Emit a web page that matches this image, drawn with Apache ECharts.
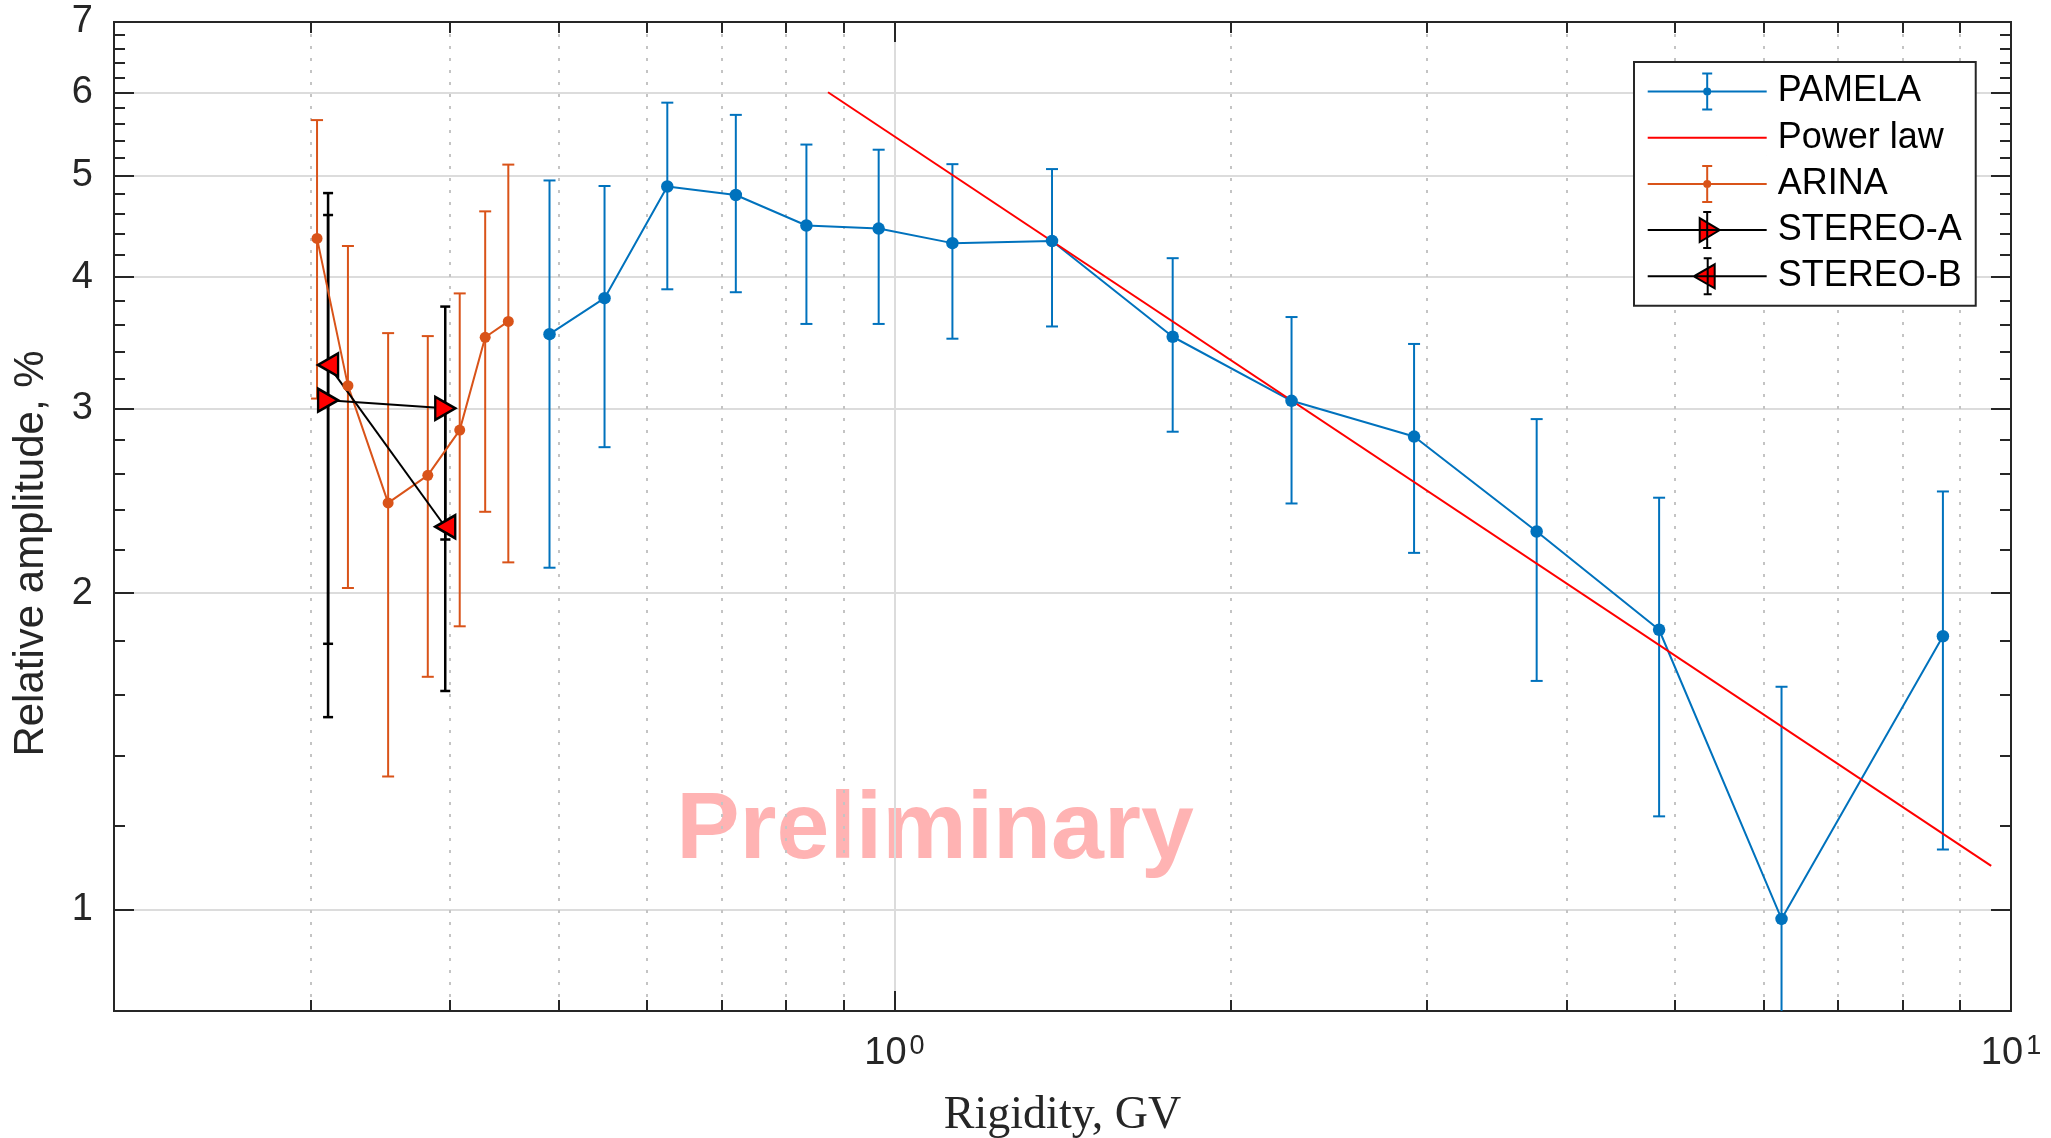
<!DOCTYPE html>
<html>
<head>
<meta charset="utf-8">
<title>Relative amplitude vs rigidity</title>
<script src="https://cdn.jsdelivr.net/npm/echarts@6/dist/echarts.min.js"></script>
<style>
  html, body { margin: 0; padding: 0; background: #fff; }
  #chart { width: 2051px; height: 1138px; }
</style>
</head>
<body>
<div id="chart"></div>
<script>
// PAMELA
const pamelaX = [0.491, 0.550, 0.626, 0.721, 0.834, 0.968, 1.127, 1.384, 1.775, 2.268, 2.92, 3.76, 4.84, 6.23, 8.69]
const pamelaY = [3.53, 3.82, 4.88, 4.79, 4.48, 4.45, 4.31, 4.33, 3.51, 3.05, 2.82, 2.29, 1.846, 0.979, 1.82]
const pamelaErr = [1.415, 1.065, 0.985, 0.92, 0.87, 0.84, 0.815, 0.74, 0.66, 0.615, 0.635, 0.64, 0.62, 0.65, 0.68]

// power law fit (two end points of the straight line)
const powerX = [0.872, 9.6]
const powerY = [6.0, 1.10]

// ARINA
const arinaX = [0.304, 0.324, 0.352, 0.382, 0.408, 0.430, 0.451]
const arinaY = [4.355, 3.153, 2.438, 2.590, 2.86, 3.506, 3.63]
const arinaErr = [1.29, 1.13, 1.10, 0.925, 1.0, 1.115, 1.49]

// STEREO
const stereoAX = [0.311, 0.396]
const stereoAY = [3.054, 3.0]
const stereoAErr = [1.53, 0.75]
const stereoBX = [0.311, 0.396]
const stereoBY = [3.30, 2.314]
const stereoBErr = [1.51, 0.70]

// ticks
const xMajor = [1, 10]
const xMinor = [0.3, 0.4, 0.5, 0.6, 0.7, 0.8, 0.9, 2, 3, 4, 5, 6, 7, 8, 9]
const yMajor = [1, 2, 3, 4, 5, 6, 7]
const yMinor = [1.2, 1.4, 1.6, 1.8, 2.2, 2.4, 2.6, 2.8, 3.2, 3.4, 3.6, 3.8, 4.2, 4.4, 4.6, 4.8, 5.2, 5.4, 5.6, 5.8, 6.2, 6.4, 6.6, 6.8]

const axisColor = '#262626'
const blue = '#0072BD'
const orange = '#D95319'

// legend icons: line + error bar + marker, drawn in a 119x36 box
const dotIcon = 'path://M0,18L119,18M59.5,0L59.5,36M54.5,0L64.5,0M54.5,36L64.5,36M62.5,18A3,3,0,1,1,56.5,18A3,3,0,1,1,62.5,18Z'
const lineIcon = 'path://M0,0L0.01,0M0,18L119,18M119,36L118.99,36'
const rightIcon = 'path://M0,18L119,18M59.5,0L59.5,36M55.5,0L63.5,0M55.5,36L63.5,36M52,6L72,18L52,30Z'
const leftIcon = 'path://M0,18L119,18M60,0L60,36M56,0L64,0M56,36L64,36M46,18L67,6L67,30Z'

function points (xs, ys) {
  return xs.map((x, i) => [x, ys[i]])
}

function errRows (xs, ys, errs) {
  return xs.map((x, i) => [x, ys[i] - errs[i], ys[i] + errs[i]])
}

function barRenderer (color, cap, width) {
  return function (params, api) {
    const hi = api.coord([api.value(0), api.value(2)])
    const lo = api.coord([api.value(0), api.value(1)])
    const style = { stroke: color, lineWidth: width }
    return {
      type: 'group',
      children: [
        { type: 'line', shape: { x1: hi[0], y1: hi[1], x2: lo[0], y2: lo[1] }, style },
        { type: 'line', shape: { x1: hi[0] - cap, y1: hi[1], x2: hi[0] + cap, y2: hi[1] }, style },
        { type: 'line', shape: { x1: lo[0] - cap, y1: lo[1], x2: lo[0] + cap, y2: lo[1] }, style }
      ]
    }
  }
}

function errSeries (name, rows, color, cap, width) {
  return {
    name,
    type: 'custom',
    clip: true,
    renderItem: barRenderer(color, cap, width),
    encode: { x: 0, y: [1, 2] },
    data: rows,
    silent: true
  }
}

function tickAxis (pos, values, len) {
  const isX = pos === 'top' || pos === 'bottom'
  return {
    type: 'log',
    logBase: 10,
    min: isX ? 0.2 : 0.8,
    max: isX ? 10 : 7,
    position: pos,
    axisLine: { show: true, lineStyle: { color: axisColor, width: 2 } },
    axisTick: { show: true, inside: true, length: len, customValues: values, lineStyle: { color: axisColor, width: 2 } },
    axisLabel: { show: false },
    splitLine: { show: false }
  }
}

const chart = echarts.init(document.getElementById('chart'))

const xMain = tickAxis('bottom', xMajor, 20)
xMain.axisLabel = {
  show: true,
  customValues: xMajor,
  margin: 22,
  formatter: v => '{b|10}{s|' + Math.round(Math.log10(v)) + '}',
  rich: {
    b: { fontSize: 38, lineHeight: 40, verticalAlign: 'bottom', fontFamily: 'Liberation Sans', color: axisColor },
    s: { fontSize: 27, lineHeight: 28, verticalAlign: 'top', padding: [0, 0, 20, 3], fontFamily: 'Liberation Sans', color: axisColor }
  }
}
xMain.splitLine = { show: true, lineStyle: { color: '#dcdcdc', width: 2 } }
xMain.name = 'Rigidity, GV'
xMain.nameLocation = 'middle'
xMain.nameGap = 82
xMain.nameTextStyle = { fontFamily: 'Liberation Serif', fontSize: 46, color: axisColor }

const xMinorAxis = tickAxis('bottom', xMinor, 11)
xMinorAxis.splitLine = { show: true, lineStyle: { color: '#c4c4c4', width: 2, type: [3, 9] } }

const yMain = tickAxis('left', yMajor, 20)
yMain.axisLabel = {
  show: true,
  customValues: yMajor,
  margin: 21,
  formatter: v => String(Math.round(v)),
  fontSize: 38,
  fontFamily: 'Liberation Sans',
  color: axisColor
}
yMain.splitLine = { show: true, lineStyle: { color: '#dcdcdc', width: 2 } }
yMain.name = 'Relative amplitude, %'
yMain.nameLocation = 'middle'
yMain.nameRotate = 90
yMain.nameGap = 62
yMain.nameTextStyle = { fontFamily: 'Liberation Sans', fontSize: 42, color: axisColor, padding: [0, 74, 0, 0] }

const option = {
  backgroundColor: '#fff',
  animation: false,
  grid: { left: 114, right: 40, top: 22, bottom: 127, containLabel: false, outerBoundsMode: 'none' },
  xAxis: [
    xMain,
    xMinorAxis,
    tickAxis('top', xMajor, 20),
    tickAxis('top', xMinor, 11)
  ],
  yAxis: [
    yMain,
    tickAxis('left', yMinor, 11),
    tickAxis('right', yMajor, 20),
    tickAxis('right', yMinor, 11)
  ],
  legend: {
    orient: 'vertical',
    left: 1634,
    top: 62,
    backgroundColor: '#fff',
    borderColor: axisColor,
    borderWidth: 2,
    borderRadius: 0,
    padding: [10.5, 14, 10.5, 12.7],
    itemWidth: 119,
    itemHeight: 36,
    itemGap: 8.2,
    textStyle: { fontSize: 36, fontFamily: 'Liberation Sans', color: '#000', padding: [0, 0, 0, 6] },
    data: [
      { name: 'PAMELA', icon: dotIcon, itemStyle: { color: blue, borderColor: blue, borderWidth: 2 } },
      { name: 'Power law', icon: lineIcon, itemStyle: { color: '#ff0000', borderColor: '#ff0000', borderWidth: 2 } },
      { name: 'ARINA', icon: dotIcon, itemStyle: { color: orange, borderColor: orange, borderWidth: 2 } },
      { name: 'STEREO-A', icon: rightIcon, itemStyle: { color: '#ff0000', borderColor: '#000', borderWidth: 2 } },
      { name: 'STEREO-B', icon: leftIcon, itemStyle: { color: '#ff0000', borderColor: '#000', borderWidth: 2 } }
    ]
  },
  graphic: [{
    type: 'text',
    x: 935,
    y: 832,
    z: -1,
    style: {
      text: 'Preliminary',
      font: 'bold 95px "Liberation Sans"',
      fill: '#ffb3b3',
      textAlign: 'center',
      textVerticalAlign: 'middle'
    }
  }],
  series: [
    errSeries('PAMELA err', errRows(pamelaX, pamelaY, pamelaErr), blue, 6, 2),
    {
      name: 'PAMELA',
      type: 'line',
      data: points(pamelaX, pamelaY),
      symbol: 'circle',
      symbolSize: 12.5,
      itemStyle: { color: blue },
      lineStyle: { color: blue, width: 2 }
    },
    {
      name: 'Power law',
      type: 'line',
      data: points(powerX, powerY),
      symbol: 'none',
      itemStyle: { color: '#ff0000' },
      lineStyle: { color: '#ff0000', width: 2 }
    },
    errSeries('ARINA err', errRows(arinaX, arinaY, arinaErr), orange, 6, 2),
    {
      name: 'ARINA',
      type: 'line',
      data: points(arinaX, arinaY),
      symbol: 'circle',
      symbolSize: 11,
      itemStyle: { color: orange },
      lineStyle: { color: orange, width: 2 }
    },
    errSeries('STEREO-A err', errRows(stereoAX, stereoAY, stereoAErr), '#000', 5, 2.5),
    errSeries('STEREO-B err', errRows(stereoBX, stereoBY, stereoBErr), '#000', 5, 2.5),
    {
      name: 'STEREO-A',
      type: 'line',
      data: points(stereoAX, stereoAY),
      symbol: 'triangle',
      symbolSize: [23, 20],
      symbolRotate: -90,
      itemStyle: { color: '#ff0000', borderColor: '#000', borderWidth: 2.5 },
      lineStyle: { color: '#000', width: 2 }
    },
    {
      name: 'STEREO-B',
      type: 'line',
      data: points(stereoBX, stereoBY),
      symbol: 'triangle',
      symbolSize: [23, 20],
      symbolRotate: 90,
      itemStyle: { color: '#ff0000', borderColor: '#000', borderWidth: 2.5 },
      lineStyle: { color: '#000', width: 2 }
    }
  ]
}

chart.setOption(option)
</script>
</body>
</html>
